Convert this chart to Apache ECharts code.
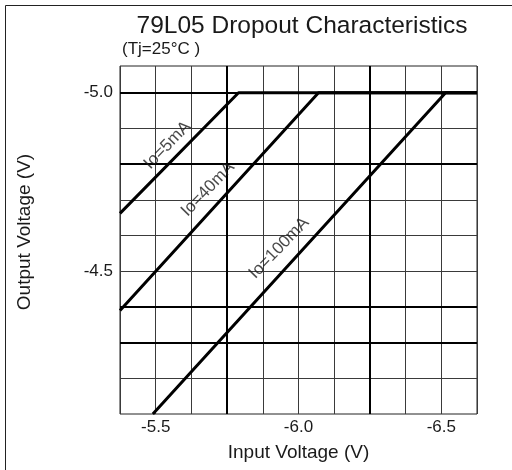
<!DOCTYPE html>
<html>
<head>
<meta charset="utf-8">
<script src="https://cdn.jsdelivr.net/npm/echarts@6/dist/echarts.min.js"></script>
<style>
html,body{margin:0;padding:0;background:#fff;}
#chart{width:512px;height:470px;}
</style>
</head>
<body>
<div id="chart"></div>
<script>
// ---- data ----
const titleText = '79L05 Dropout Characteristics';
const subtitleText = '(Tj=25°C )';
const xAxisName = 'Input Voltage (V)';
const yAxisName = 'Output Voltage (V)';
const xRange = [-6.625, -5.375];
const yRange = [-5.075, -4.1];
const xStep = 0.125;
const xTickLabels = [-5.5, -6.0, -6.5];
const yTickLabels = [-5.0, -4.5];
const yThinGrid = [-4.9, -4.7, -4.6, -4.5, -4.2];
const yThickGrid = [-5.0, -4.8, -4.4, -4.3];
const xThickGrid = [-5.75, -6.25];
// curves: [input voltage, output voltage]
const io5mA = [[-5.375, -4.662], [-5.79, -5.0], [-6.625, -5.0]];
const io40mA = [[-5.375, -4.39], [-6.07, -5.0], [-6.625, -5.0]];
const io100mA = [[-5.49, -4.1], [-6.515, -5.0], [-6.625, -5.0]];
const curveNames = ['Io=5mA', 'Io=40mA', 'Io=100mA'];
const labelVin = [-5.541, -5.683, -5.932];
const labelVout = [-4.853, -4.730, -4.565];

const FONT = '"Liberation Sans", Arial, sans-serif';
const TXT = '#1a1a1a';

const chart = echarts.init(document.getElementById('chart'), null, {renderer: 'canvas'});

const gridMarks = [];
yThinGrid.forEach(v => gridMarks.push({yAxis: v, lineStyle: {color: '#3a3a3a', width: 1, type: 'solid'}}));
yThickGrid.forEach(v => gridMarks.push({yAxis: v, lineStyle: {color: '#000', width: 2, type: 'solid'}}));
xThickGrid.forEach(v => gridMarks.push({xAxis: v, lineStyle: {color: '#000', width: 2, type: 'solid'}}));

const curves = [io5mA, io40mA, io100mA].map((d, i) => ({
  type: 'line',
  name: curveNames[i],
  data: d,
  symbol: 'none',
  z: 10,
  lineStyle: {color: '#000', width: 3},
  silent: true,
  markLine: i === 0 ? {
    symbol: ['none', 'none'],
    silent: true,
    label: {show: false},
    animation: false,
    data: gridMarks
  } : undefined
}));

const labelSeries = {
  type: 'scatter',
  symbolSize: 0,
  z: 11,
  silent: true,
  data: curveNames.map((n, i) => ({value: [labelVin[i], labelVout[i]], name: n})),
  label: {
    show: true,
    position: 'inside',
    formatter: p => p.name,
    rotate: 46,
    fontFamily: FONT,
    fontSize: 17,
    color: TXT
  }
};

chart.setOption({
  animation: false,
  backgroundColor: '#fff',
  title: [
    {text: titleText, left: 297, top: 9, textAlign: 'center',
     textStyle: {fontFamily: FONT, fontSize: 24.5, fontWeight: 'normal', color: TXT}},
    {text: subtitleText, left: 117, top: 36,
     textStyle: {fontFamily: FONT, fontSize: 17, fontWeight: 'normal', color: TXT}}
  ],
  grid: {left: 120, top: 66, width: 357, height: 348, show: true,
         borderColor: '#222', borderWidth: 1, backgroundColor: 'transparent'},
  xAxis: {
    type: 'value', inverse: true, min: xRange[0], max: xRange[1], interval: xStep,
    name: xAxisName, nameLocation: 'middle', nameGap: 29,
    nameTextStyle: {fontFamily: FONT, fontSize: 19, color: TXT},
    axisLine: {show: false}, axisTick: {show: false},
    axisLabel: {
      margin: 5, fontFamily: FONT, fontSize: 17, color: TXT,
      formatter: v => xTickLabels.some(t => Math.abs(t - v) < 1e-9) ? v.toFixed(1) : ''
    },
    splitLine: {show: true, lineStyle: {color: '#3a3a3a', width: 1}}
  },
  yAxis: {
    type: 'value', inverse: true, min: yRange[0], max: yRange[1],
    name: yAxisName, nameLocation: 'middle', nameGap: 86, nameRotate: 90,
    nameTextStyle: {fontFamily: FONT, fontSize: 19, color: TXT, padding: [0, 0, 0, 16]},
    axisLine: {show: false}, axisTick: {show: false},
    axisLabel: {
      customValues: yTickLabels, margin: 7, fontFamily: FONT, fontSize: 17, color: TXT,
      formatter: v => v.toFixed(1)
    },
    splitLine: {show: false}
  },
  graphic: [{
    type: 'rect', silent: true,
    shape: {x: 5.5, y: 5.5, width: 520, height: 520},
    style: {fill: 'none', stroke: '#222', lineWidth: 1}
  }],
  series: curves.concat([labelSeries])
});
</script>
</body>
</html>
